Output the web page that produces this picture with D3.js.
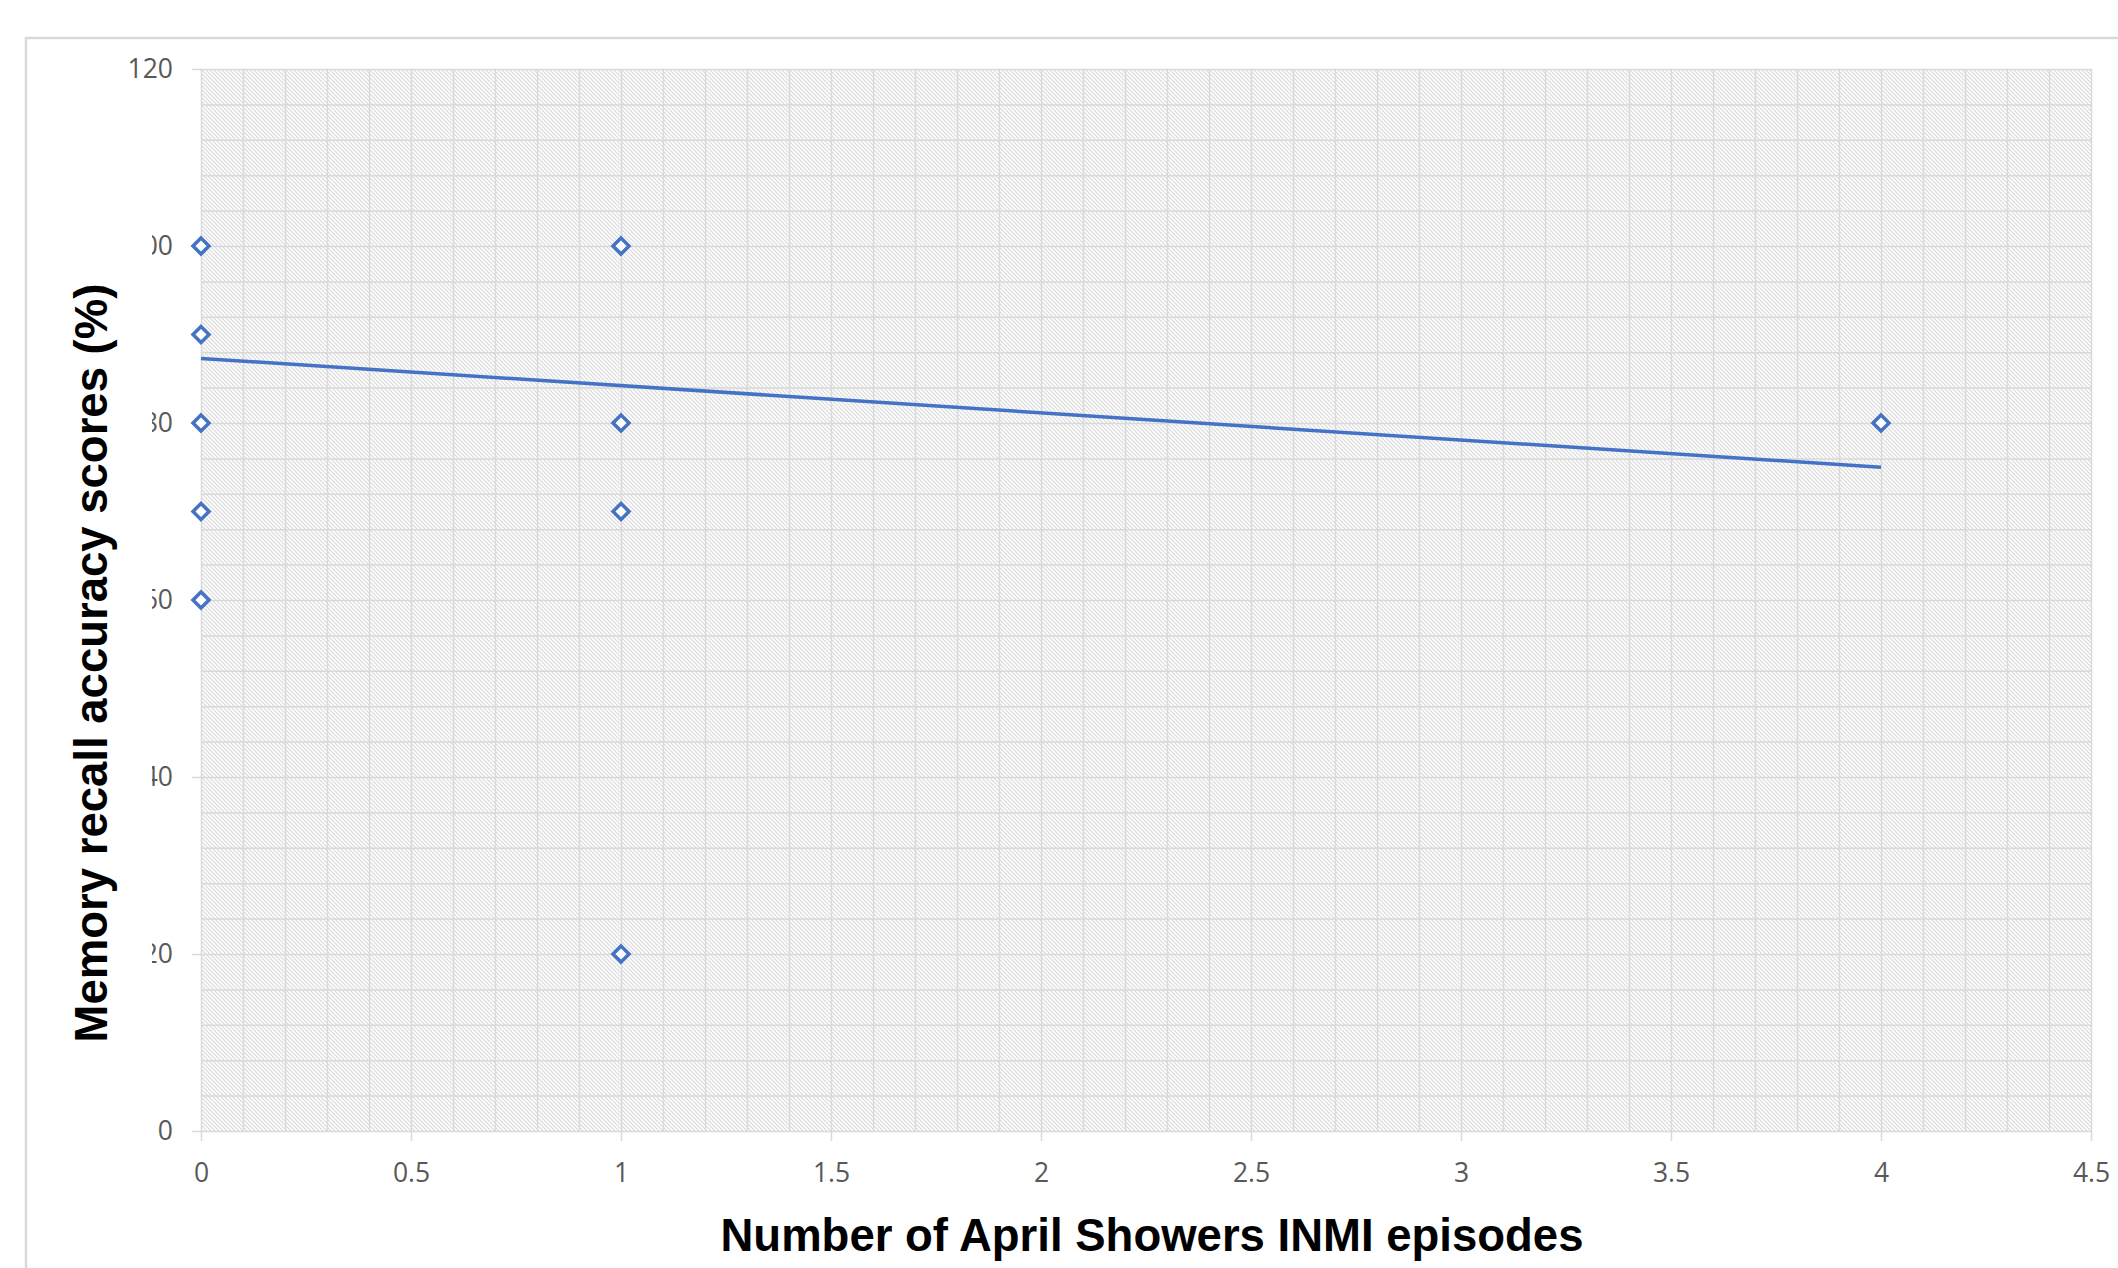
<!DOCTYPE html>
<html>
<head>
<meta charset="utf-8">
<script src="https://cdn.jsdelivr.net/npm/d3@7"></script>
<style>
  body { margin: 0; background: #fff; }
  svg { display: block; }
</style>
</head>
<body>
<div id="chart"></div>
<script>
// episodes vs recall score
const episodes = [0, 0, 0, 0, 0, 1, 1, 1, 1, 4];
const scores = [100, 90, 80, 70, 60, 100, 80, 70, 20, 80];

// linear trend line
const trendX = [0, 4];
const trendY = [87.3, 75.0];

const xTicks = [0, 0.5, 1, 1.5, 2, 2.5, 3, 3.5, 4, 4.5];
const yTicks = [0, 20, 40, 60, 80, 100, 120];

const width = 2118, height = 1268;
const plotLeft = 201, plotRight = 2091, plotTop = 69, plotBottom = 1131;

const blue = '#4472C4', grid = '#d9d9d9', tickText = '#595959';

let x = d3.scaleLinear().domain([0, 4.5]).range([plotLeft, plotRight]);
let y = d3.scaleLinear().domain([0, 120]).range([plotBottom, plotTop]);

const svg = d3.select('#chart')
    .append('svg')
    .attr('width', width)
    .attr('height', height);

// hatch pattern for plot area
const pat = svg.append('defs').append('pattern')
    .attr('id', 'hatch')
    .attr('patternUnits', 'userSpaceOnUse')
    .attr('width', 4)
    .attr('height', 4);
pat.append('rect').attr('width', 4).attr('height', 4).attr('fill', '#fff');
pat.append('path')
    .attr('d', 'M-1,-1 L5,5 M-1,3 L1,5 M3,-1 L5,1')
    .attr('stroke', '#d8d8d8')
    .attr('stroke-width', 1.1);

// outer frame
svg.append('rect')
    .attr('x', 26).attr('y', 38)
    .attr('width', width).attr('height', height)
    .attr('fill', 'none')
    .attr('stroke', grid)
    .attr('stroke-width', 2.5);

svg.append('rect')
    .attr('x', plotLeft).attr('y', plotTop)
    .attr('width', plotRight - plotLeft).attr('height', plotBottom - plotTop)
    .attr('fill', 'url(#hatch)');

// gridlines
const gx = svg.append('g')
    .attr('transform', `translate(0,${plotBottom})`)
    .call(d3.axisBottom(x).tickValues(d3.range(0, 46).map(i => i / 10)).tickSize(-(plotBottom - plotTop)).tickFormat(''));
const gy = svg.append('g')
    .attr('transform', `translate(${plotLeft},0)`)
    .call(d3.axisLeft(y).tickValues(d3.range(0, 31).map(i => i * 4)).tickSize(-(plotRight - plotLeft)).tickFormat(''));
[gx, gy].forEach(g => {
    g.select('.domain').remove();
    g.selectAll('line').attr('stroke', grid).attr('stroke-width', 1.5);
});

// x axis ticks + labels
const ax = svg.append('g')
    .attr('transform', `translate(0,${plotBottom})`)
    .call(d3.axisBottom(x).tickValues(xTicks).tickSize(10).tickPadding(22).tickFormat(d3.format('')));
ax.select('.domain').remove();
ax.selectAll('line').attr('stroke', grid).attr('stroke-width', 1.5);
ax.selectAll('text')
    .attr('fill', tickText)
    .style('font-family', '"Open Sans", sans-serif')
    .style('font-size', '26.5px');

// y axis ticks + labels
const ay = svg.append('g')
    .attr('transform', `translate(${plotLeft},0)`)
    .call(d3.axisLeft(y).tickValues(yTicks).tickSize(9).tickPadding(19));
ay.select('.domain').remove();
ay.selectAll('line').attr('stroke', grid).attr('stroke-width', 1.5);
ay.selectAll('text')
    .attr('fill', tickText)
    .style('font-family', '"Open Sans", sans-serif')
    .style('font-size', '26.5px');

// trend line
svg.append('path')
    .datum(trendX.map((d, i) => [d, trendY[i]]))
    .attr('d', d3.line().x(d => x(d[0])).y(d => y(d[1])))
    .attr('fill', 'none')
    .attr('stroke', blue)
    .attr('stroke-width', 3.5);

// diamond markers
svg.selectAll('.pt').data(episodes)
    .enter()
    .append('path')
    .attr('class', 'pt')
    .attr('d', 'M0,-8 L8,0 L0,8 L-8,0 Z')
    .attr('transform', (d, i) => `translate(${x(d)},${y(scores[i])})`)
    .attr('fill', '#fff')
    .attr('stroke', blue)
    .attr('stroke-width', 3.5);

// title box covers part of y labels, as in original
svg.append('rect')
    .attr('x', 55).attr('y', 228)
    .attr('width', 97).attr('height', 860)
    .attr('fill', '#fff');

svg.append('text')
    .attr('transform', 'translate(107,663) rotate(-90)')
    .attr('text-anchor', 'middle')
    .style('font-family', '"Liberation Sans", Arial, sans-serif')
    .style('font-weight', 'bold')
    .style('font-size', '45.5px')
    .text('Memory recall accuracy scores (%)');

svg.append('text')
    .attr('x', 1152).attr('y', 1251)
    .attr('text-anchor', 'middle')
    .style('font-family', '"Liberation Sans", Arial, sans-serif')
    .style('font-weight', 'bold')
    .style('font-size', '45.5px')
    .text('Number of April Showers INMI episodes');
</script>
</body>
</html>
